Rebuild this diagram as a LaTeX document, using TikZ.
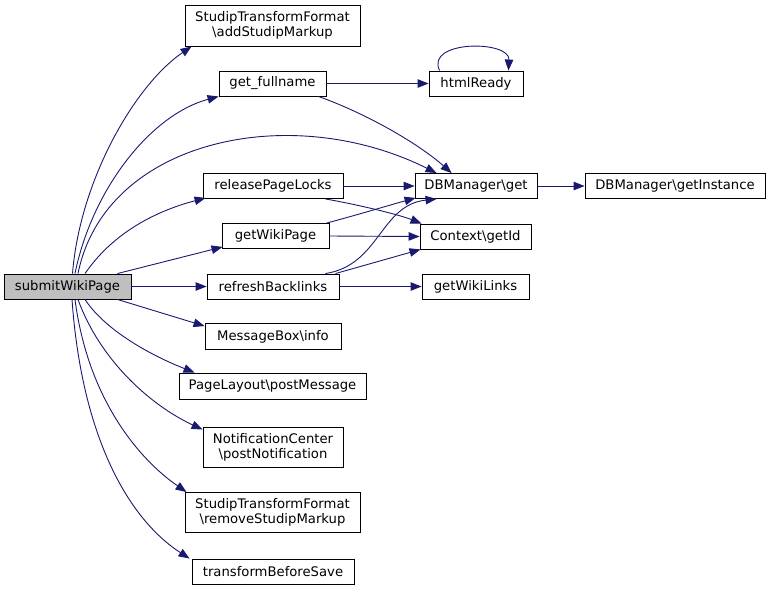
\documentclass[tikz,border=0pt]{standalone}
\usepackage{fontspec}
\setmainfont{DejaVu Sans}
\usetikzlibrary{arrows.meta,calc}
\definecolor{edgec}{HTML}{191970}
\definecolor{rootfill}{HTML}{BFBFBF}
\tikzset{
  fn/.style={draw=black, line width=0.9pt, fill=white, inner sep=0pt, align=center,
    font=\fontsize{13.2}{15}\selectfont},
  root/.style={fn, fill=rootfill},
  call/.style={draw=edgec, line width=0.9pt, -{Triangle[length=11pt,width=8.5pt]}, edgec}
}
\begin{document}
\begin{tikzpicture}[x=1pt,y=-1pt]
\useasboundingbox (0,0) rectangle (769,590);
% nodes
\node[root, minimum width=127, minimum height=25] (sw) at (67.5,286.5) {submitWikiPage};
\node[fn, minimum width=175, minimum height=41] (asm) at (272.5,25.5) {StudipTransformFormat\\\textbackslash addStudipMarkup};
\node[fn, minimum width=107, minimum height=25] (gf) at (272.5,83.5) {get\_fullname};
\node[fn, minimum width=94, minimum height=25] (hr) at (476,83.5) {htmlReady};
\node[fn, minimum width=122, minimum height=25] (dbg) at (476,186) {DBManager\textbackslash get};
\node[fn, minimum width=180, minimum height=25] (dbi) at (675,186) {DBManager\textbackslash getInstance};
\node[fn, minimum width=140, minimum height=25] (rpl) at (273,186) {releasePageLocks};
\node[fn, minimum width=107, minimum height=25] (gwp) at (275.5,236) {getWikiPage};
\node[fn, minimum width=111, minimum height=25] (cid) at (475.5,236.5) {Context\textbackslash getId};
\node[fn, minimum width=132, minimum height=25] (rb) at (273,286.5) {refreshBacklinks};
\node[fn, minimum width=107, minimum height=25] (gwl) at (475.5,286.5) {getWikiLinks};
\node[fn, minimum width=136, minimum height=26] (mbi) at (273,336.5) {MessageBox\textbackslash info};
\node[fn, minimum width=187, minimum height=26] (plp) at (272.5,386) {PageLayout\textbackslash postMessage};
\node[fn, minimum width=140, minimum height=40] (ncp) at (273,447) {NotificationCenter\\\textbackslash postNotification};
\node[fn, minimum width=175, minimum height=40] (rsm) at (272.5,512.5) {StudipTransformFormat\\\textbackslash removeStudipMarkup};
\node[fn, minimum width=162, minimum height=25] (tbs) at (273,571.5) {transformBeforeSave};
% edges from submitWikiPage
\draw[call] ($(sw.north)+(5,0)$) .. controls (80,180) and (135,85) .. ($(asm.south west)+(7,0)$);
\draw[call] ($(sw.north)+(7.5,0)$) .. controls (92,190) and (150,115) .. ($(gf.south west)+(0,0)$);
\draw[call] ($(sw.north)+(10.5,0)$) .. controls (105,140) and (290,100) .. ($(dbg.north west)+(22,0)$);
\draw[call] ($(sw.north)+(17.5,0)$) .. controls (115,230) and (160,210) .. ($(rpl.south west)+(3,-1)$);
\draw[call] ($(sw.north east)+(-14,0)$) -- ($(gwp.south west)+(1,-2)$);
\draw[call] (sw.east) -- (rb.west);
\draw[call] ($(sw.south east)+(-14,0)$) -- ($(mbi.north west)+(0,3)$);
\draw[call] ($(sw.south)+(17.5,0)$) .. controls (105,330) and (150,355) .. ($(plp.north west)+(16,0)$);
\draw[call] ($(sw.south)+(10.5,0)$) .. controls (100,360) and (150,405) .. ($(ncp.north west)+(0,3)$);
\draw[call] ($(sw.south)+(7.5,0)$) .. controls (88,400) and (140,460) .. ($(rsm.north west)+(2,0)$);
\draw[call] ($(sw.south)+(4.5,0)$) .. controls (82,440) and (130,520) .. ($(tbs.north west)+(-2,0)$);
% other edges
\draw[call] (gf.east) -- (hr.west);
\draw[call] ($(gf.south east)+(-8,0)$) .. controls (370,115) and (420,145) .. ($(dbg.north west)+(37,0)$);
\draw[call] ($(hr.north west)+(11,0)$) .. controls (425,40) and (510,40) .. ($(hr.north east)+(-15,0)$);
\draw[call] (rpl.east) -- (dbg.west);
\draw[call] ($(rpl.south east)+(-18,0)$) .. controls (360,205) and (400,215) .. ($(cid.north west)+(2,0)$);
\draw[call] ($(gwp.north east)+(-3,0)$) .. controls (350,217) and (390,205) .. ($(dbg.south west)+(1,-1)$);
\draw[call] (gwp.east) -- (cid.west);
\draw[call] ($(rb.north east)+(-14,0)$) .. controls (380,265) and (380,205) .. ($(dbg.south west)+(22,0)$);
\draw[call] ($(rb.north east)+(-4,0)$) -- ($(cid.south west)+(1,0)$);
\draw[call] (rb.east) -- (gwl.west);
\draw[call] (dbg.east) -- (dbi.west);
\end{tikzpicture}
\end{document}
